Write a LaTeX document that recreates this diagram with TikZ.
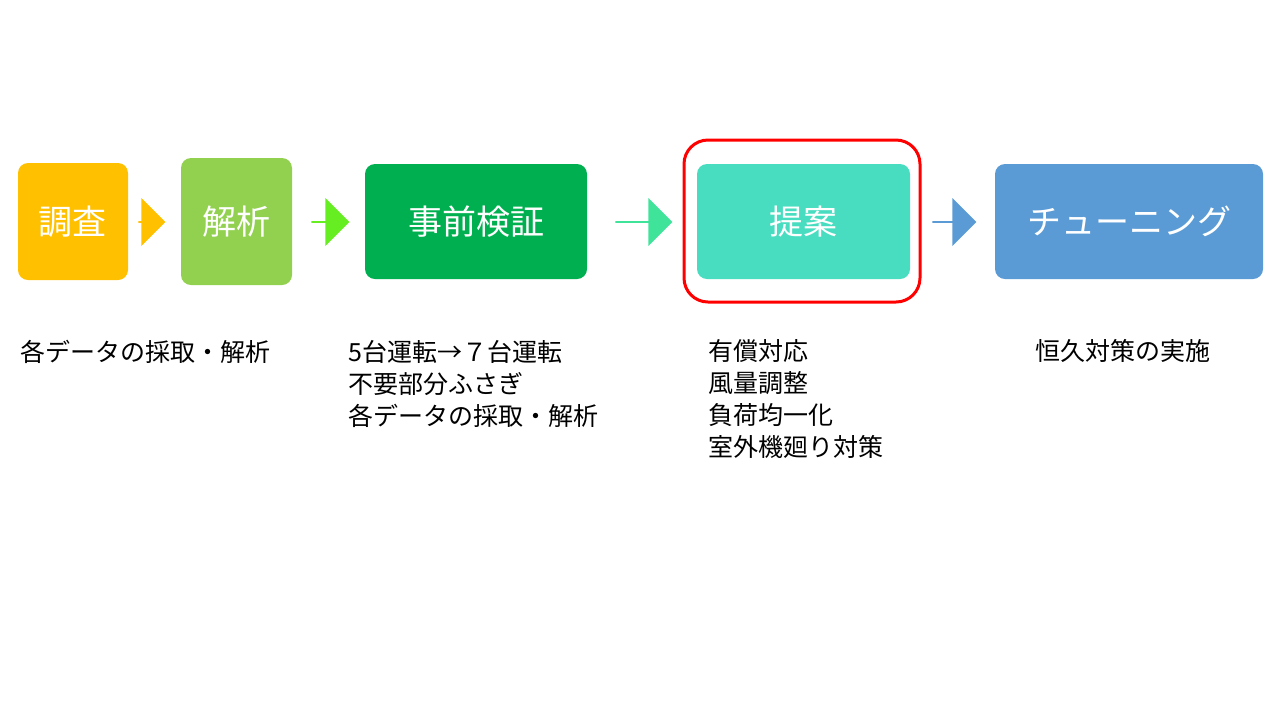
\documentclass[tikz,border=0pt]{standalone}
\usepackage{fontspec}
\setmainfont{Noto Sans CJK JP}
\usetikzlibrary{shapes.arrows}
\definecolor{cgold}{HTML}{FFC000}
\definecolor{clime}{HTML}{92D050}
\definecolor{cgreen}{HTML}{00B050}
\definecolor{cbright}{HTML}{66EE22}
\definecolor{cmint}{HTML}{48DDC0}
\definecolor{cseaarrow}{HTML}{40E39A}
\definecolor{cblue}{HTML}{5B9BD5}
\tikzstyle{phase} = [rectangle, rounded corners=5pt, text=white, font=\fontsize{17}{20}\selectfont, inner sep=0pt]
\tikzstyle{blockarrow} = [single arrow, minimum width=24pt, single arrow head extend=6pt, inner sep=0pt, shape border rotate=0]
\tikzstyle{note} = [anchor=north west, align=left, font=\fontsize{12.5}{16}\selectfont, inner sep=0pt]
\begin{document}
\begin{tikzpicture}[x=0.5pt, y=-0.5pt]
\useasboundingbox (0,0) rectangle (1280,720);

\node (S1) [phase, fill=cgold, minimum width=55pt, minimum height=58.5pt] at (73,221.5) {調査};
\node (S2) [phase, fill=clime, minimum width=55.5pt, minimum height=63.5pt] at (236.5,221.5) {解析};
\node (S3) [phase, fill=cgreen, minimum width=111pt, minimum height=57.5pt] at (476,221.5) {事前検証};
\node (S4) [phase, fill=cmint, minimum width=106.5pt, minimum height=57.5pt] at (803.5,221.5) {提案};
\node (S5) [phase, fill=cblue, minimum width=134pt, minimum height=57.5pt] at (1129,221.5) {チューニング};

\node (F) [draw=red, line width=1.5pt, rounded corners=12pt, minimum width=118pt, minimum height=81pt] at (802,221) {};

\node (A1) [blockarrow, fill=cgold, minimum height=13.5pt] at (151.5,222) {};
\node (A2) [blockarrow, fill=cbright, minimum height=19pt] at (330,222) {};
\node (A3) [blockarrow, fill=cseaarrow, minimum height=28.5pt] at (643.5,222) {};
\node (A4) [blockarrow, fill=cblue, minimum height=22pt] at (954,222) {};

\node (N1) [note] at (20,340) {各データの採取・解析};
\node (N3) [note] at (348,340) {5台運転→７台運転\\不要部分ふさぎ\\各データの採取・解析};
\node (N4) [note] at (708,339) {有償対応\\風量調整\\負荷均一化\\室外機廻り対策};
\node (N5) [note] at (1035,339) {恒久対策の実施};

\end{tikzpicture}
\end{document}
